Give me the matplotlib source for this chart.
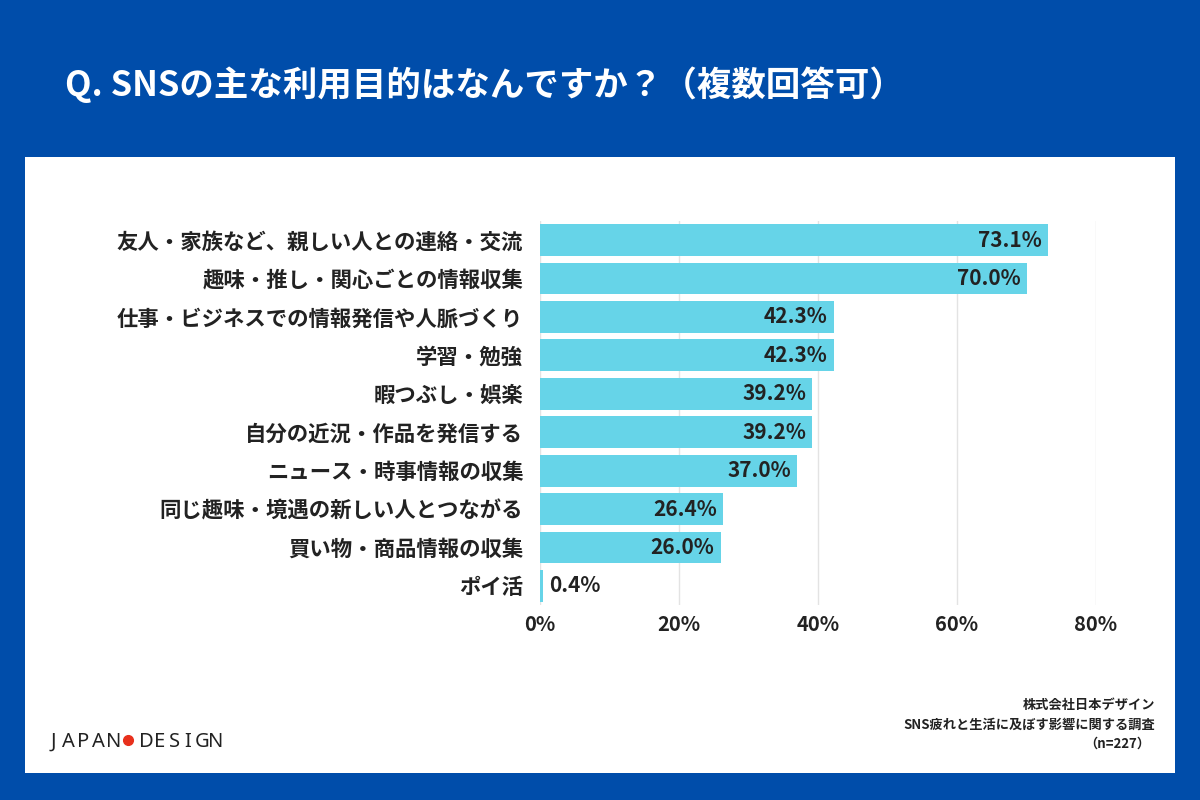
import numpy as np
import matplotlib
matplotlib.use("Agg")
from matplotlib import pyplot as plt
from matplotlib.lines import Line2D

plt.rcParams['font.family'] = ['Noto Sans CJK JP', 'DejaVu Sans']

# Data
categories = [
    "友人・家族など、親しい人との連絡・交流",
    "趣味・推し・関心ごとの情報収集",
    "仕事・ビジネスでの情報発信や人脈づくり",
    "学習・勉強",
    "暇つぶし・娯楽",
    "自分の近況・作品を発信する",
    "ニュース・時事情報の収集",
    "同じ趣味・境遇の新しい人とつながる",
    "買い物・商品情報の収集",
    "ポイ活",
]
values = [73.1, 70.0, 42.3, 42.3, 39.2, 39.2, 37.0, 26.4, 26.0, 0.4]
x_ticks = [0, 20, 40, 60, 80]
x_tick_labels = ["0%", "20%", "40%", "60%", "80%"]

blue = "#004DAA"
bar_color = "#66D4E8"
ink = "#222222"
W, H = 1200, 800

fig = plt.figure(figsize=(12, 8), dpi=100)
fig.patch.set_facecolor(blue)

# White panel as a background axes
bg = fig.add_axes([25 / W, 1 - 773 / H, 1150 / W, 616 / H], zorder=0)
bg.set_facecolor("white")
bg.set_xticks([])
bg.set_yticks([])
for s in bg.spines.values():
    s.set_visible(False)

# Title
fig.text(65 / W, 1 - 85 / H, "Q. SNSの主な利用目的はなんですか？（複数回答可）",
         color="white", fontsize=24.8, fontweight="bold", va="center", ha="left")

ax = fig.add_axes([540 / W, 1 - 605.2 / H, 556 / W, 384.4 / H], zorder=1)
ax.set_facecolor("none")

y = np.arange(len(categories))
ax.barh(y, values, height=0.83, color=bar_color, zorder=2)
ax.set_ylim(len(categories) - 0.5, -0.5)
ax.set_xlim(0, 80)

ax.set_yticks(y)
ax.set_yticklabels(categories, fontsize=15.4, fontweight="bold", color=ink)
ax.set_xticks(x_ticks)
ax.set_xticklabels(x_tick_labels, fontsize=14.5, fontweight="bold", color=ink)
ax.tick_params(axis="y", length=0, pad=12)
ax.tick_params(axis="x", length=0, pad=6)

ax.grid(axis="x", color="#e3e3e3", linewidth=1, zorder=0)
ax.set_axisbelow(True)
for s in ax.spines.values():
    s.set_visible(False)

for yi, v in zip(y, values):
    if v > 5:
        ax.text(v - 0.9, yi, f"{v:.1f}%", ha="right", va="center",
                fontsize=15, fontweight="bold", color=ink, zorder=3)
    else:
        ax.text(v + 0.9, yi, f"{v:.1f}%", ha="left", va="center",
                fontsize=15, fontweight="bold", color=ink, zorder=3)

# Footer: logo, letter-spaced
logo_font = ["Noto Sans", "DejaVu Sans"]
for i, ch in enumerate("JAPAN"):
    fig.text((53 + i * 15.2) / W, 1 - 747 / H, ch, fontsize=14.5, color=ink,
             va="baseline", ha="center", family=logo_font, zorder=5)
fig.add_artist(Line2D([128 / W], [1 - 740 / H], marker="o", markersize=7,
                      color="#E8301C", linestyle="none", transform=fig.transFigure,
                      zorder=5))
for i, ch in enumerate("DESIGN"):
    fig.text((146 + i * 14.0) / W, 1 - 747 / H, ch, fontsize=14.5, color=ink,
             va="baseline", ha="center", family=logo_font, zorder=5)

# Footer: source
fig.text(1155 / W, 1 - 705 / H, "株式会社日本デザイン", fontsize=9.5,
         fontweight="bold", color=ink, ha="right", va="center", zorder=5)
fig.text(1155 / W, 1 - 725 / H, "SNS疲れと生活に及ぼす影響に関する調査", fontsize=9.5,
         fontweight="bold", color=ink, ha="right", va="center", zorder=5)
fig.text(1150 / W, 1 - 744 / H, "（n=227）", fontsize=9.5,
         fontweight="bold", color=ink, ha="right", va="center", zorder=5)

fig.savefig("out.png", dpi=100, facecolor=fig.get_facecolor())
